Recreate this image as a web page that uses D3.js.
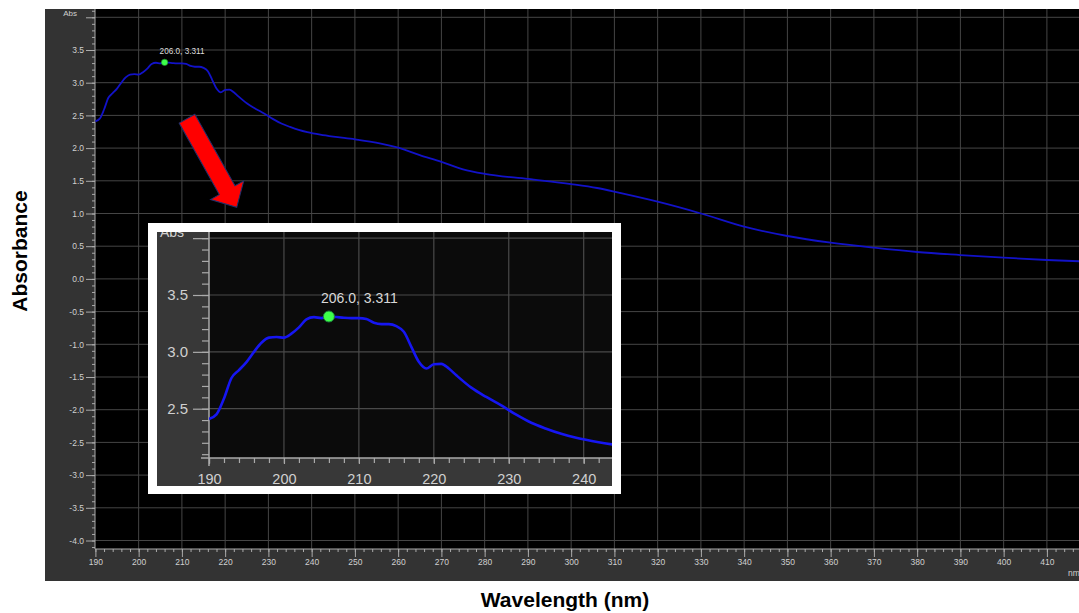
<!DOCTYPE html>
<html><head><meta charset="utf-8">
<script src="https://cdn.jsdelivr.net/npm/d3@7"></script>
<style>body{margin:0;background:#fff;overflow:hidden;} svg{display:block;font-family:"Liberation Sans",Arial,sans-serif;}</style>
</head><body><svg id="c" width="1079" height="613"></svg>
<script>
// ---- data ----
const wavelengths = [190,191,192,193,194,195,196,197,198,199,200,201,202,203,204,205,206,207,208,209,210,211,212,213,214,215,216,217,218,219,220,221,222,223,225,227,229,231,233,235,237,239,242,245,250,256,260,265,270,275,280,290,300,306,311,320,330,340,350,360,370,380,390,400,410,418];
const absorbance  = [2.41,2.45,2.59,2.77,2.84,2.91,3.00,3.08,3.125,3.13,3.125,3.16,3.215,3.285,3.305,3.297,3.311,3.306,3.30,3.297,3.297,3.288,3.256,3.244,3.244,3.226,3.176,3.044,2.912,2.853,2.891,2.894,2.853,2.794,2.685,2.603,2.529,2.447,2.376,2.324,2.279,2.244,2.205,2.175,2.135,2.07,2.006,1.894,1.79,1.676,1.606,1.528,1.45,1.39,1.318,1.18,1.00,0.798,0.656,0.554,0.477,0.411,0.365,0.324,0.289,0.268];
const peakWavelength = 206.0;
const peakAbsorbance = 3.311;
const xTickValues = [190,200,210,220,230,240,250,260,270,280,290,300,310,320,330,340,350,360,370,380,390,400,410];
const yTickValues = [-4.0,-3.5,-3.0,-2.5,-2.0,-1.5,-1.0,-0.5,0.0,0.5,1.0,1.5,2.0,2.5,3.0,3.5];
const insetXTickValues = [190,200,210,220,230,240];
const insetYTickValues = [2.5,3.0,3.5];

const points = wavelengths.map((w,i)=>({w, a: absorbance[i]}));
const fmt = v => v.toFixed(1);
const svg = d3.select("#c");

// ---- main chart ----
const P = {l:95, r:1079, t:9, b:549};
svg.append("rect").attr("x",45).attr("y",9).attr("width",1034).attr("height",572).attr("fill","#333");
svg.append("rect").attr("x",P.l).attr("y",P.t).attr("width",P.r-P.l).attr("height",P.b-P.t).attr("fill","#000");
const defs = svg.append("defs");
defs.append("clipPath").attr("id","mainClip").append("rect").attr("x",P.l).attr("y",P.t).attr("width",P.r-P.l).attr("height",P.b-P.t);

const x = d3.scaleLinear().domain([190,410]).range([95.4,1046.9]);
const y = d3.scaleLinear().domain([-4,3.5]).range([540.5,50]);

const grid = svg.append("g").attr("stroke","#454545").attr("stroke-width",1);
grid.selectAll("line.v").data(xTickValues.slice(1)).join("line").attr("class","v")
  .attr("x1",d=>x(d)).attr("x2",d=>x(d)).attr("y1",P.t).attr("y2",P.b);
grid.selectAll("line.h").data(yTickValues.concat([4.0])).join("line").attr("class","h")
  .attr("x1",P.l).attr("x2",P.r).attr("y1",d=>y(d)).attr("y2",d=>y(d));

function styleAxis(g, color, size){
  g.select(".domain").remove();
  g.selectAll("line").attr("stroke",color);
  g.selectAll("text").attr("fill","#d0d0d0").style("font-size",size+"px").style("font-family",'"Liberation Sans",Arial,sans-serif');
}
const yMinor = d3.range(-41,42).map(v=>v/10);
svg.append("g").attr("transform",`translate(${P.l},0)`)
  .call(d3.axisLeft(y).tickValues(yMinor).tickSize(3).tickFormat(""))
  .call(g=>styleAxis(g,"#aaa",8));
svg.append("g").attr("transform",`translate(${P.l},0)`)
  .call(d3.axisLeft(y).tickValues(yTickValues).tickSize(9).tickPadding(2).tickFormat(fmt))
  .call(g=>styleAxis(g,"#aaa",8.5));
svg.append("g").attr("transform",`translate(${P.l},0)`)
  .call(d3.axisLeft(y).tickValues([4.0]).tickSize(9).tickFormat(""))
  .call(g=>styleAxis(g,"#aaa",8));
const xMinor = d3.range(190,419,2);
svg.append("g").attr("transform",`translate(0,${P.b})`)
  .call(d3.axisBottom(x).tickValues(xMinor).tickSize(3).tickFormat(""))
  .call(g=>styleAxis(g,"#aaa",8));
svg.append("g").attr("transform",`translate(0,${P.b})`)
  .call(d3.axisBottom(x).tickValues(xTickValues).tickSize(8).tickPadding(2).tickFormat(d3.format("d")))
  .call(g=>styleAxis(g,"#aaa",8.5));
svg.append("line").attr("x1",P.l).attr("x2",P.l).attr("y1",P.t).attr("y2",P.b).attr("stroke","#aaa");
svg.append("line").attr("x1",P.l).attr("x2",P.r).attr("y1",P.b).attr("y2",P.b).attr("stroke","#aaa");
svg.append("text").attr("x",77).attr("y",16).attr("text-anchor","end").attr("fill","#d0d0d0").style("font-size","8px").text("Abs");
svg.append("text").attr("x",1068).attr("y",576).attr("fill","#d0d0d0").style("font-size","8.5px").text("nm");

const line = d3.line().x(d=>x(d.w)).y(d=>y(d.a)).curve(d3.curveMonotoneX);
svg.append("path").datum(points).attr("d",line).attr("fill","none")
  .attr("stroke","#1212c8").attr("stroke-width",1.8).attr("clip-path","url(#mainClip)");
svg.append("circle").attr("cx",x(peakWavelength)).attr("cy",y(peakAbsorbance)).attr("r",3.2)
  .attr("fill","#3dff4a").attr("stroke","#1b8f2a").attr("stroke-width",0.6);
svg.append("text").attr("x",x(peakWavelength)-5).attr("y",y(peakAbsorbance)-8)
  .attr("fill","#dcdcdc").style("font-size","8.2px").text(`${peakWavelength.toFixed(1)}, ${peakAbsorbance}`);

// ---- red arrow annotation ----
svg.append("polygon")
  .attr("points",[[0,-9],[82,-9],[82,-19],[101.6,0],[82,19],[82,9],[0,9]].map(p=>p.join(",")).join(" "))
  .attr("transform","translate(187,118.7) rotate(60.7)")
  .attr("fill","#ff0000").attr("stroke","#22306a").attr("stroke-width",1);

// ---- inset ----
svg.append("rect").attr("x",148).attr("y",223).attr("width",473).attr("height",271).attr("fill","#fff");
svg.append("rect").attr("x",157).attr("y",232).attr("width",455).attr("height",254).attr("fill","#383838");
const I = {l:209, r:612, t:232, b:458};
svg.append("rect").attr("x",I.l).attr("y",I.t).attr("width",I.r-I.l).attr("height",I.b-I.t).attr("fill","#0b0b0b");
defs.append("clipPath").attr("id","insetClip").append("rect").attr("x",I.l).attr("y",I.t).attr("width",I.r-I.l).attr("height",I.b-I.t);
defs.append("clipPath").attr("id","insetPanelClip").append("rect").attr("x",157).attr("y",232).attr("width",455).attr("height",254);

const xi = d3.scaleLinear().domain([190,240]).range([209,583.7]);
const yi = d3.scaleLinear().domain([2.5,3.5]).range([408.7,295]);

const igrid = svg.append("g").attr("stroke","#4a4a4a").attr("stroke-width",1.2);
igrid.selectAll("line.v").data(insetXTickValues.slice(1)).join("line").attr("class","v")
  .attr("x1",d=>xi(d)).attr("x2",d=>xi(d)).attr("y1",I.t).attr("y2",I.b);
igrid.selectAll("line.h").data(insetYTickValues.concat([4.0])).join("line").attr("class","h")
  .attr("x1",I.l).attr("x2",I.r).attr("y1",d=>yi(d)).attr("y2",d=>yi(d));

const yiMinor = d3.range(21,41).map(v=>v/10);
svg.append("g").attr("transform",`translate(${I.l},0)`)
  .call(d3.axisLeft(yi).tickValues(yiMinor).tickSize(7).tickFormat(""))
  .call(g=>styleAxis(g,"#aaa",14)).selectAll("line").attr("stroke-width",1.2);
svg.append("g").attr("transform",`translate(${I.l},0)`)
  .call(d3.axisLeft(yi).tickValues(insetYTickValues.concat([4.0])).tickSize(16).tickPadding(5).tickFormat(d=>d===4?"":fmt(d)))
  .call(g=>styleAxis(g,"#aaa",15)).selectAll("line").attr("stroke-width",1.2);
const xiMinor = d3.range(190,244,2);
svg.append("g").attr("transform",`translate(0,${I.b})`)
  .call(d3.axisBottom(xi).tickValues(xiMinor).tickSize(5).tickFormat(""))
  .call(g=>styleAxis(g,"#aaa",14)).selectAll("line").attr("stroke-width",1.2);
svg.append("g").attr("transform",`translate(0,${I.b})`)
  .call(d3.axisBottom(xi).tickValues(insetXTickValues).tickSize(6).tickPadding(10).tickFormat(d3.format("d")))
  .call(g=>styleAxis(g,"#aaa",14.5)).selectAll("line").attr("stroke-width",1.2);
svg.append("line").attr("x1",I.l).attr("x2",I.l).attr("y1",I.t).attr("y2",I.b+8).attr("stroke","#aaa").attr("stroke-width",1.5);
svg.append("line").attr("x1",I.l-8).attr("x2",I.r).attr("y1",I.b).attr("y2",I.b).attr("stroke","#aaa").attr("stroke-width",1.5);
svg.append("text").attr("x",160).attr("y",236.5).attr("fill","#d0d0d0").style("font-size","14px")
  .attr("clip-path","url(#insetPanelClip)").text("Abs");

const iline = d3.line().x(d=>xi(d.w)).y(d=>yi(d.a)).curve(d3.curveMonotoneX);
svg.append("path").datum(points).attr("d",iline).attr("fill","none")
  .attr("stroke","#1616f2").attr("stroke-width",2.6).attr("clip-path","url(#insetClip)");
svg.append("circle").attr("cx",xi(peakWavelength)).attr("cy",yi(peakAbsorbance)).attr("r",5.5)
  .attr("fill","#3dff4a").attr("stroke","#1b7f3a").attr("stroke-width",1);
svg.append("text").attr("x",xi(peakWavelength)-8).attr("y",yi(peakAbsorbance)-13)
  .attr("fill","#d8d8d8").style("font-size","14px").text(`${peakWavelength.toFixed(1)}, ${peakAbsorbance}`);

// ---- axis titles ----
svg.append("text").attr("transform","translate(20,251) rotate(-90)").attr("text-anchor","middle").attr("dy","0.35em")
  .attr("fill","#000").style("font-size","21px").style("font-weight","bold").text("Absorbance");
svg.append("text").attr("x",565).attr("y",600).attr("text-anchor","middle").attr("dy","0.35em")
  .attr("fill","#000").style("font-size","21px").style("font-weight","bold").text("Wavelength (nm)");
</script></body></html>
